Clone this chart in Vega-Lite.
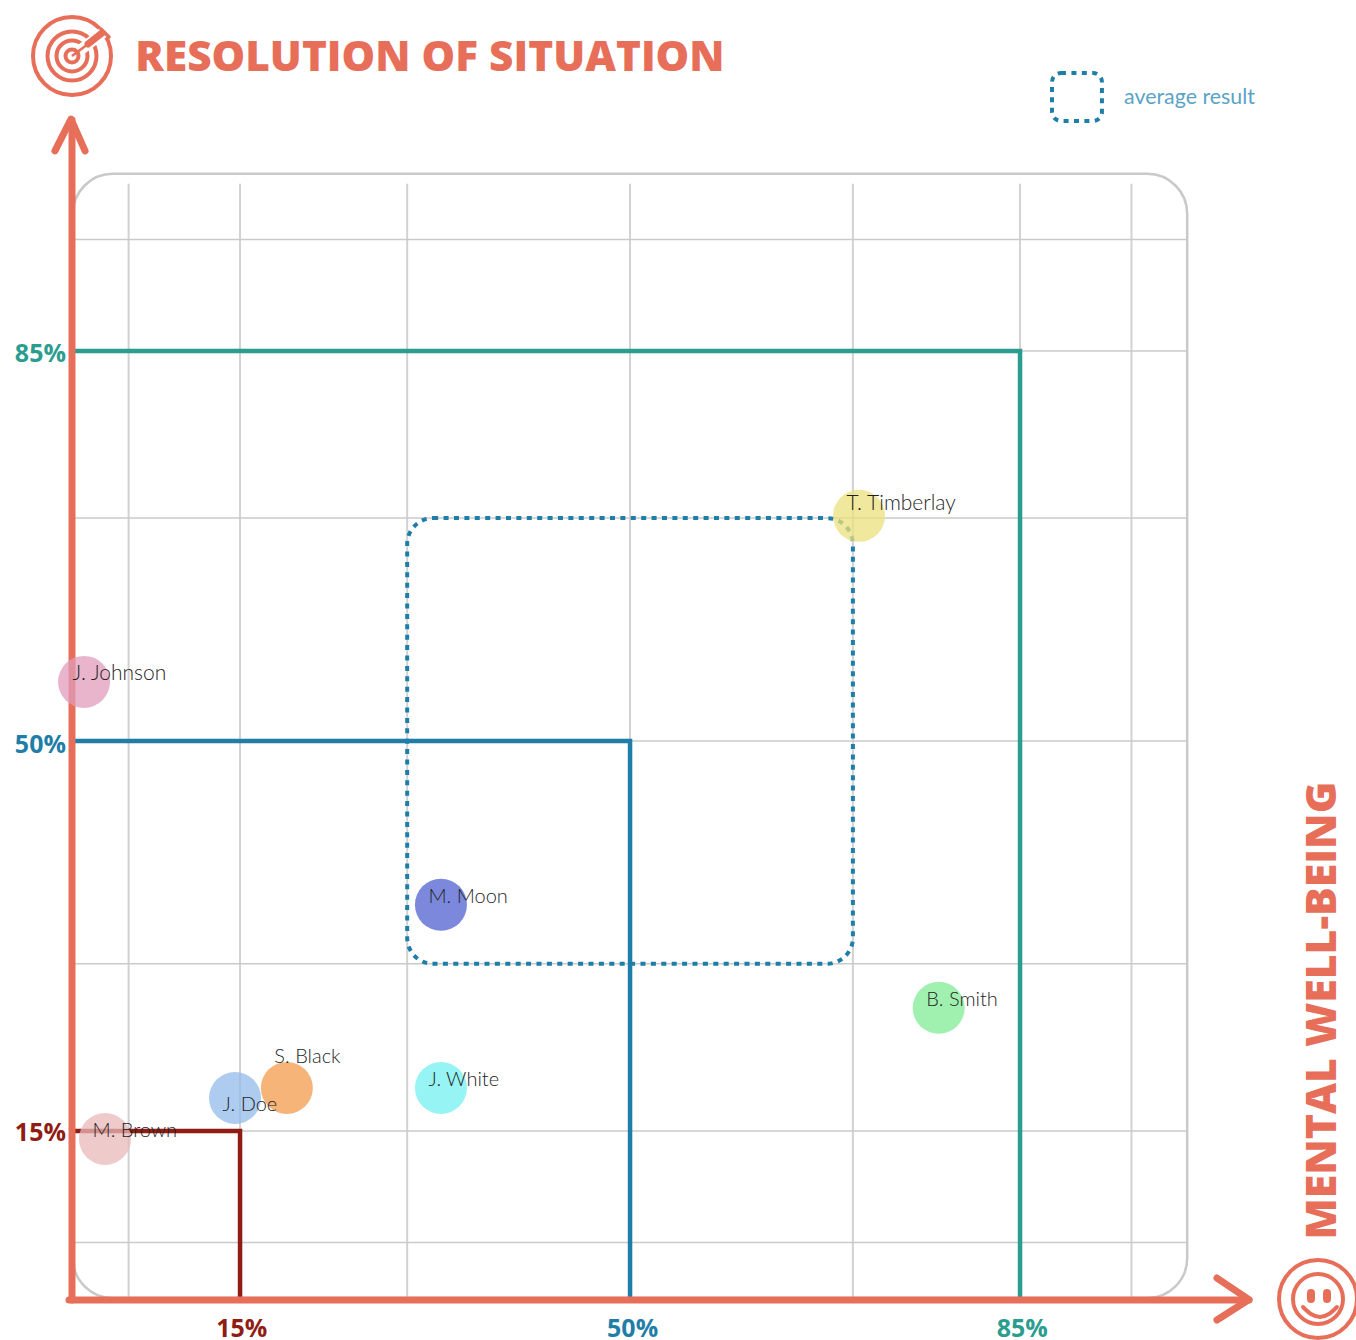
{"$schema":"https://vega.github.io/schema/vega-lite/v6.json","width":1356,"height":1340,"autosize":"none","padding":0,"background":"white","config":{"view":{"stroke":null}},
"datasets":{
"frame":[{"x":0,"x2":100,"y":0,"y2":100.9}],
"gridV":[{"x":5,"y":0,"y2":100},{"x":15,"y":0,"y2":100},{"x":30,"y":0,"y2":100},{"x":50,"y":0,"y2":100},{"x":70,"y":0,"y2":100},{"x":85,"y":0,"y2":100},{"x":95,"y":0,"y2":100}],
"gridH":[{"y":5,"x":0,"x2":100},{"y":15,"x":0,"x2":100},{"y":30,"x":0,"x2":100},{"y":50,"x":0,"x2":100},{"y":70,"x":0,"x2":100},{"y":85,"x":0,"x2":100},{"y":95,"x":0,"x2":100}],
"levels":[{"g":"15%","i":1,"x":0,"y":15},{"g":"15%","i":2,"x":15,"y":15},{"g":"15%","i":3,"x":15,"y":0},{"g":"50%","i":1,"x":0,"y":50},{"g":"50%","i":2,"x":50,"y":50},{"g":"50%","i":3,"x":50,"y":0},{"g":"85%","i":1,"x":0,"y":85},{"g":"85%","i":2,"x":85,"y":85},{"g":"85%","i":3,"x":85,"y":0}],
"avg":[{"x":30,"x2":70,"y":30,"y2":70}],
"legendBox":[{"x":87.87,"x2":92.35,"y":105.64,"y2":109.95}],
"people":[{"name":"J. Johnson","x":1.0,"y":55.3},{"name":"M. Moon","x":33.03,"y":35.3},{"name":"T. Timberlay","x":70.55,"y":70.2},{"name":"B. Smith","x":77.7,"y":26.05},{"name":"J. White","x":33.03,"y":18.86},{"name":"S. Black","x":19.2,"y":18.86},{"name":"J. Doe","x":14.55,"y":17.96},{"name":"M. Brown","x":2.88,"y":14.28}],
"axes":[{"g":"y","i":1,"x":-0.08,"y":-0.17},{"g":"y","i":2,"x":-0.08,"y":105.72},{"g":"x","i":1,"x":-0.35,"y":-0.17},{"g":"x","i":2,"x":105.55,"y":-0.17},{"g":"yh","i":1,"x":-1.61,"y":102.95},{"g":"yh","i":2,"x":-0.17,"y":105.81},{"g":"yh","i":3,"x":1.09,"y":102.95},{"g":"xh","i":1,"x":102.67,"y":1.8},{"g":"xh","i":2,"x":105.55,"y":-0.13},{"g":"xh","i":3,"x":102.67,"y":-1.97}],
"xTicks":[{"t":"15%","x":15.15,"y":-2.77},{"t":"50%","x":50.23,"y":-2.77},{"t":"85%","x":85.2,"y":-2.77}],
"yTicks":[{"t":"15%","x":-0.62,"y":14.8},{"t":"50%","x":-0.62,"y":49.65},{"t":"85%","x":-0.62,"y":84.73}],
"target":[{"x":-0.08,"y":111.47}],
"smile":[{"x":111.74,"y":-0.08}],
"dartHalo":[{"i":1,"x":0.6,"y":111.95},{"i":2,"x":2.9,"y":113.7}],
"dartShaft":[{"i":1,"x":-0.08,"y":111.47},{"i":2,"x":1.36,"y":112.55}],
"dartBody":[{"i":1,"x":1.36,"y":112.55},{"i":2,"x":2.61,"y":113.53}],
"dartFletch":[{"i":1,"x":2.52,"y":113.89},{"i":2,"x":3.24,"y":113.17}],
"eyes":[{"g":"l","i":1,"x":111.11,"y":0.46},{"g":"l","i":2,"x":111.11,"y":-0.08},{"g":"r","i":1,"x":112.55,"y":0.46},{"g":"r","i":2,"x":112.55,"y":-0.08}],
"mouth":[{"i":1,"x":110.39,"y":-0.8},{"i":2,"x":111.11,"y":-1.43},{"i":3,"x":111.92,"y":-1.7},{"i":4,"x":112.72,"y":-1.43},{"i":5,"x":113.44,"y":-0.8}]
},
"encoding":{"x":{"field":"x","type":"quantitative","axis":null,"scale":{"domain":[-6.542,115.15],"nice":false,"zero":false}},"y":{"field":"y","type":"quantitative","axis":null,"scale":{"domain":[-3.76,116.495],"nice":false,"zero":false}}},
"resolve":{"scale":{"color":"independent"}},
"layer":[
{"data":{"name":"gridV"},"mark":{"type":"rule","stroke":"#d2d2d2","strokeWidth":2},"encoding":{"y2":{"field":"y2"}}},
{"data":{"name":"gridH"},"mark":{"type":"rule","stroke":"#cacaca","strokeWidth":1.5},"encoding":{"x2":{"field":"x2"}}},
{"data":{"name":"frame"},"mark":{"type":"rect","fill":null,"stroke":"#c9c9c9","strokeWidth":2.5,"cornerRadius":40},"encoding":{"x2":{"field":"x2"},"y2":{"field":"y2"}}},
{"data":{"name":"levels"},"mark":{"type":"line","strokeWidth":4.5,"strokeJoin":"miter"},"encoding":{"detail":{"field":"g"},"order":{"field":"i"},"color":{"field":"g","type":"nominal","legend":null,"scale":{"domain":["15%","50%","85%"],"range":["#8f1d14","#1f7ea8","#2a9d8f"]}}}},
{"data":{"name":"avg"},"mark":{"type":"rect","fill":null,"stroke":"#1f7ea8","strokeWidth":4,"cornerRadius":26,"strokeDash":[5,5.4]},"encoding":{"x2":{"field":"x2"},"y2":{"field":"y2"}}},
{"data":{"name":"legendBox"},"mark":{"type":"rect","fill":null,"stroke":"#1f7ea8","strokeWidth":4,"cornerRadius":9,"strokeDash":[5,5.4]},"encoding":{"x2":{"field":"x2"},"y2":{"field":"y2"}}},
{"data":{"name":"axes"},"mark":{"type":"line","stroke":"#e76f5a","strokeWidth":7,"strokeCap":"round","strokeJoin":"round"},"encoding":{"detail":{"field":"g"},"order":{"field":"i"}}},
{"data":{"name":"people"},"mark":{"type":"point","shape":"circle","filled":true,"size":2704,"opacity":0.75,"strokeWidth":0},"encoding":{"color":{"field":"name","type":"nominal","legend":null,"scale":{"domain":["J. Johnson","M. Moon","T. Timberlay","B. Smith","J. White","S. Black","J. Doe","M. Brown"],"range":["#e09cbb","#4f60d0","#ebe07b","#80eb96","#73f0f0","#f39b4b","#93baeb","#e8b8b8"]}}}},
{"data":{"name":"people"},"transform":[{"filter":"indexof(['S. Black','J. Doe','T. Timberlay','J. Johnson'],datum.name)<0"}],"mark":{"type":"text","align":"left","baseline":"middle","dx":-12.5,"dy":-7.5,"font":"Lato","fontWeight":300,"fontSize":20,"fill":"#1f1f1f"},"encoding":{"text":{"field":"name"}}},
{"data":{"name":"people"},"transform":[{"filter":"datum.name=='J. Johnson'"}],"mark":{"type":"text","align":"left","baseline":"middle","dx":-11.5,"dy":-8,"font":"Lato","fontWeight":300,"fontSize":21,"fill":"#1f1f1f"},"encoding":{"text":{"field":"name"}}},
{"data":{"name":"people"},"transform":[{"filter":"datum.name=='S. Black'"}],"mark":{"type":"text","align":"left","baseline":"middle","dx":-12.5,"dy":-31,"font":"Lato","fontWeight":300,"fontSize":20,"fill":"#1f1f1f"},"encoding":{"text":{"field":"name"}}},
{"data":{"name":"people"},"transform":[{"filter":"datum.name=='J. Doe'"}],"mark":{"type":"text","align":"left","baseline":"middle","dx":-12.5,"dy":7.5,"font":"Lato","fontWeight":300,"fontSize":20,"fill":"#1f1f1f"},"encoding":{"text":{"field":"name"}}},
{"data":{"name":"people"},"transform":[{"filter":"datum.name=='T. Timberlay'"}],"mark":{"type":"text","align":"left","baseline":"middle","dx":-12.5,"dy":-11.5,"font":"Lato","fontWeight":300,"fontSize":21,"fill":"#1f1f1f"},"encoding":{"text":{"field":"name"}}},
{"data":{"name":"xTicks"},"mark":{"type":"text","align":"center","baseline":"middle","font":"Open Sans","fontWeight":"bold","fontSize":25},"encoding":{"text":{"field":"t"},"color":{"field":"t","type":"nominal","legend":null,"scale":{"domain":["15%","50%","85%"],"range":["#8f1d14","#1f7ea8","#2a9d8f"]}}}},
{"data":{"name":"yTicks"},"mark":{"type":"text","align":"right","baseline":"middle","font":"Open Sans","fontWeight":"bold","fontSize":25},"encoding":{"text":{"field":"t"},"color":{"field":"t","type":"nominal","legend":null,"scale":{"domain":["15%","50%","85%"],"range":["#8f1d14","#1f7ea8","#2a9d8f"]}}}},
{"data":{"values":[{"t":"RESOLUTION OF SITUATION","x":5.6,"y":111.3}]},"mark":{"type":"text","align":"left","baseline":"middle","font":"Open Sans","fontWeight":800,"fontSize":42.3,"fill":"#e76f5a"},"encoding":{"text":{"field":"t"}}},
{"data":{"values":[{"t":"MENTAL WELL-BEING","x":112.2,"y":25.8}]},"mark":{"type":"text","align":"center","baseline":"middle","angle":270,"font":"Open Sans","fontWeight":800,"fontSize":42.7,"fill":"#e76f5a"},"encoding":{"text":{"field":"t"}}},
{"data":{"values":[{"t":"average result","x":94.33,"y":107.7}]},"mark":{"type":"text","align":"left","baseline":"middle","font":"Lato","fontSize":21.4,"fill":"#5ba3c4"},"encoding":{"text":{"field":"t"}}},
{"data":{"name":"target"},"mark":{"type":"point","shape":"circle","filled":false,"size":6084,"stroke":"#e76f5a","strokeWidth":4,"opacity":1}},
{"data":{"name":"target"},"mark":{"type":"point","shape":"circle","filled":false,"size":2401,"stroke":"#e76f5a","strokeWidth":4,"opacity":1}},
{"data":{"name":"target"},"mark":{"type":"point","shape":"circle","filled":false,"size":961,"stroke":"#e76f5a","strokeWidth":4,"opacity":1}},
{"data":{"name":"target"},"mark":{"type":"point","shape":"circle","filled":false,"size":169,"stroke":"#e76f5a","strokeWidth":4,"opacity":1}},
{"data":{"name":"dartHalo"},"mark":{"type":"line","stroke":"white","strokeWidth":11},"encoding":{"order":{"field":"i"}}},
{"data":{"name":"dartShaft"},"mark":{"type":"line","stroke":"#e76f5a","strokeWidth":2.5},"encoding":{"order":{"field":"i"}}},
{"data":{"name":"dartBody"},"mark":{"type":"line","stroke":"#e76f5a","strokeWidth":7,"strokeCap":"round"},"encoding":{"order":{"field":"i"}}},
{"data":{"name":"dartFletch"},"mark":{"type":"line","stroke":"#e76f5a","strokeWidth":3.5,"strokeCap":"round"},"encoding":{"order":{"field":"i"}}},
{"data":{"name":"smile"},"mark":{"type":"point","shape":"circle","filled":false,"size":6084,"stroke":"#e76f5a","strokeWidth":4,"opacity":1}},
{"data":{"name":"smile"},"mark":{"type":"point","shape":"circle","filled":false,"size":2500,"stroke":"#e76f5a","strokeWidth":4,"opacity":1}},
{"data":{"name":"eyes"},"mark":{"type":"line","stroke":"#e76f5a","strokeWidth":8,"strokeCap":"round"},"encoding":{"detail":{"field":"g"},"order":{"field":"i"}}},
{"data":{"name":"mouth"},"mark":{"type":"line","stroke":"#e76f5a","strokeWidth":4,"strokeCap":"round","interpolate":"monotone"},"encoding":{"order":{"field":"i"}}}
]}
